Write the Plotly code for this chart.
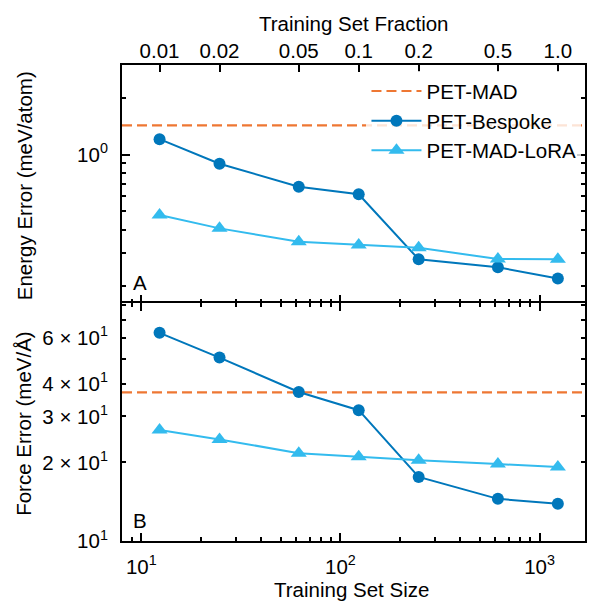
import plotly.graph_objects as go

# ---------------- data ----------------
train_sizes = [12.35, 24.7, 61.75, 123.5, 247, 617.5, 1235]
fraction_labels = ["0.01", "0.02", "0.05", "0.1", "0.2", "0.5", "1.0"]

energy_bespoke = [1.21, 0.896, 0.676, 0.616, 0.278, 0.252, 0.220]
energy_lora = [0.478, 0.406, 0.345, 0.331, 0.320, 0.279, 0.278]
energy_petmad = 1.433

force_bespoke = [62.7, 50.4, 37.2, 31.7, 17.6, 14.5, 13.9]
force_lora = [26.6, 24.5, 21.7, 21.0, 20.4, 19.7, 19.2]
force_petmad = 37.1

x_major = [10, 100, 1000]
x_major_text = ["10<sup>1</sup>", "10<sup>2</sup>", "10<sup>3</sup>"]
x_minor = [8, 9, 20, 30, 40, 50, 60, 70, 80, 90, 200, 300, 400, 500, 600, 700, 800, 900]

ye_major = [1]
ye_major_text = ["10<sup>0</sup>"]
ye_minor = [0.2, 0.3, 0.4, 0.5, 0.6, 0.7, 0.8, 0.9, 2, 3]

yf_major = [10, 20, 30, 40, 60]
yf_major_text = ["10<sup>1</sup>", "2 × 10<sup>1</sup>", "3 × 10<sup>1</sup>",
                 "4 × 10<sup>1</sup>", "6 × 10<sup>1</sup>"]
yf_minor = [50, 70, 80]

# ---------------- style ----------------
C_BLUE = "#0077BB"
C_CYAN = "#33BBEE"
C_ORANGE = "#EE7733"
FONT = "Liberation Sans, Arial, Helvetica, sans-serif"
FS = 20.5
X_RANGE = [0.903, 3.228]
DASH = "10px,5px"

fig = go.Figure()

# legend-only entry for the PET-MAD reference line
fig.add_trace(go.Scatter(x=[None], y=[None], mode="lines", name="PET-MAD",
                         line=dict(color=C_ORANGE, width=2.2, dash=DASH),
                         legendgroup="a", xaxis="x2", yaxis="y2"))

# top panel (energy)
fig.add_trace(go.Scatter(x=train_sizes, y=energy_bespoke, mode="lines+markers",
                         name="PET-Bespoke", legendgroup="b",
                         line=dict(color=C_BLUE, width=2),
                         marker=dict(symbol="circle", size=12, color=C_BLUE),
                         xaxis="x2", yaxis="y2"))
fig.add_trace(go.Scatter(x=train_sizes, y=energy_lora, mode="lines+markers",
                         name="PET-MAD-LoRA", legendgroup="c",
                         line=dict(color=C_CYAN, width=2),
                         marker=dict(symbol="triangle-up", size=14, color=C_CYAN),
                         xaxis="x2", yaxis="y2"))
# bottom panel (force)
fig.add_trace(go.Scatter(x=train_sizes, y=force_bespoke, mode="lines+markers",
                         name="PET-Bespoke", showlegend=False,
                         line=dict(color=C_BLUE, width=2),
                         marker=dict(symbol="circle", size=12, color=C_BLUE),
                         xaxis="x", yaxis="y"))
fig.add_trace(go.Scatter(x=train_sizes, y=force_lora, mode="lines+markers",
                         name="PET-MAD-LoRA", showlegend=False,
                         line=dict(color=C_CYAN, width=2),
                         marker=dict(symbol="triangle-up", size=14, color=C_CYAN),
                         xaxis="x", yaxis="y"))
# invisible trace for the top fraction axis
fig.add_trace(go.Scatter(x=train_sizes, y=energy_bespoke, mode="markers",
                         marker=dict(opacity=0), showlegend=False, hoverinfo="skip",
                         xaxis="x3", yaxis="y2"))

# PET-MAD horizontal reference lines
fig.add_shape(type="line", xref="x2 domain", yref="y2", x0=0, x1=1,
              y0=energy_petmad, y1=energy_petmad, layer="below",
              line=dict(color=C_ORANGE, width=2.2, dash=DASH))
fig.add_shape(type="line", xref="x domain", yref="y", x0=0, x1=1,
              y0=force_petmad, y1=force_petmad, layer="below",
              line=dict(color=C_ORANGE, width=2.2, dash=DASH))

common_axis = dict(showgrid=False, zeroline=False, showline=True, linecolor="black",
                   linewidth=2, ticks="inside", tickcolor="black", tickwidth=1.5,
                   tickfont=dict(family=FONT, size=FS, color="black"))

split = 0.4997

fig.update_layout(
    width=589, height=601,
    margin=dict(l=122, r=2, t=65, b=60),
    paper_bgcolor="white", plot_bgcolor="white",
    font=dict(family=FONT, size=FS, color="black"),
    showlegend=True,
    legend=dict(x=0.528, y=0.987, xanchor="left", yanchor="top",
                bgcolor="rgba(255,255,255,0.8)", borderwidth=0,
                font=dict(family=FONT, size=FS, color="black"),
                tracegroupgap=0, itemwidth=50),
    xaxis=dict(common_axis, type="log", range=X_RANGE, anchor="y", mirror="ticks",
               tickmode="array", tickvals=x_major, ticktext=x_major_text, ticklen=8,
               ticklabelstandoff=6,
               minor=dict(tickmode="array", tickvals=x_minor, ticks="inside", ticklen=4,
                          tickwidth=1.5, tickcolor="black", showgrid=False)),
    xaxis2=dict(common_axis, type="log", range=X_RANGE, anchor="y2", mirror=False,
                showticklabels=False, showline=False,
                tickmode="array", tickvals=x_major, ticklen=8,
                minor=dict(tickmode="array", tickvals=x_minor, ticks="inside", ticklen=4,
                           tickwidth=1.5, tickcolor="black", showgrid=False)),
    xaxis3=dict(common_axis, type="log", range=X_RANGE, anchor="y2", overlaying="x2",
                side="top", tickmode="array", tickvals=train_sizes,
                ticktext=fraction_labels, ticklen=7, ticklabelstandoff=-3),
    yaxis=dict(common_axis, type="log", range=[1.0, 1.911], domain=[0, split],
               anchor="x", mirror="ticks", tickmode="array", tickvals=yf_major,
               ticktext=yf_major_text, ticklen=4, ticklabelstandoff=8,
               minor=dict(tickmode="array", tickvals=yf_minor, ticks="inside", ticklen=4,
                          tickwidth=1.5, tickcolor="black", showgrid=False)),
    yaxis2=dict(common_axis, type="log", range=[-0.789, 0.477], domain=[split, 1],
                anchor="x2", mirror="ticks", tickmode="array", tickvals=ye_major,
                ticktext=ye_major_text, ticklen=8, ticklabelstandoff=8,
                minor=dict(tickmode="array", tickvals=ye_minor, ticks="inside", ticklen=4,
                           tickwidth=1.5, tickcolor="black", showgrid=False)),
)

ann_font = dict(family=FONT, size=FS, color="black")
annotations = [
    dict(text="Energy Error (meV/atom)", x=-0.2114, y=0.7456, textangle=-90),
    dict(text="Force Error (meV/Å)", x=-0.2114, y=0.2464, textangle=-90),
    dict(text="Training Set Size", x=0.495, y=-0.101),
    dict(text="Training Set Fraction", x=0.5015, y=1.087),
    dict(text="A", x=0.038, y=0.5438),
    dict(text="B", x=0.038, y=0.0435),
]
for a in annotations:
    fig.add_annotation(xref="paper", yref="paper", showarrow=False,
                       xanchor="center", yanchor="middle", font=ann_font, **a)

fig.write_html("out.html")
